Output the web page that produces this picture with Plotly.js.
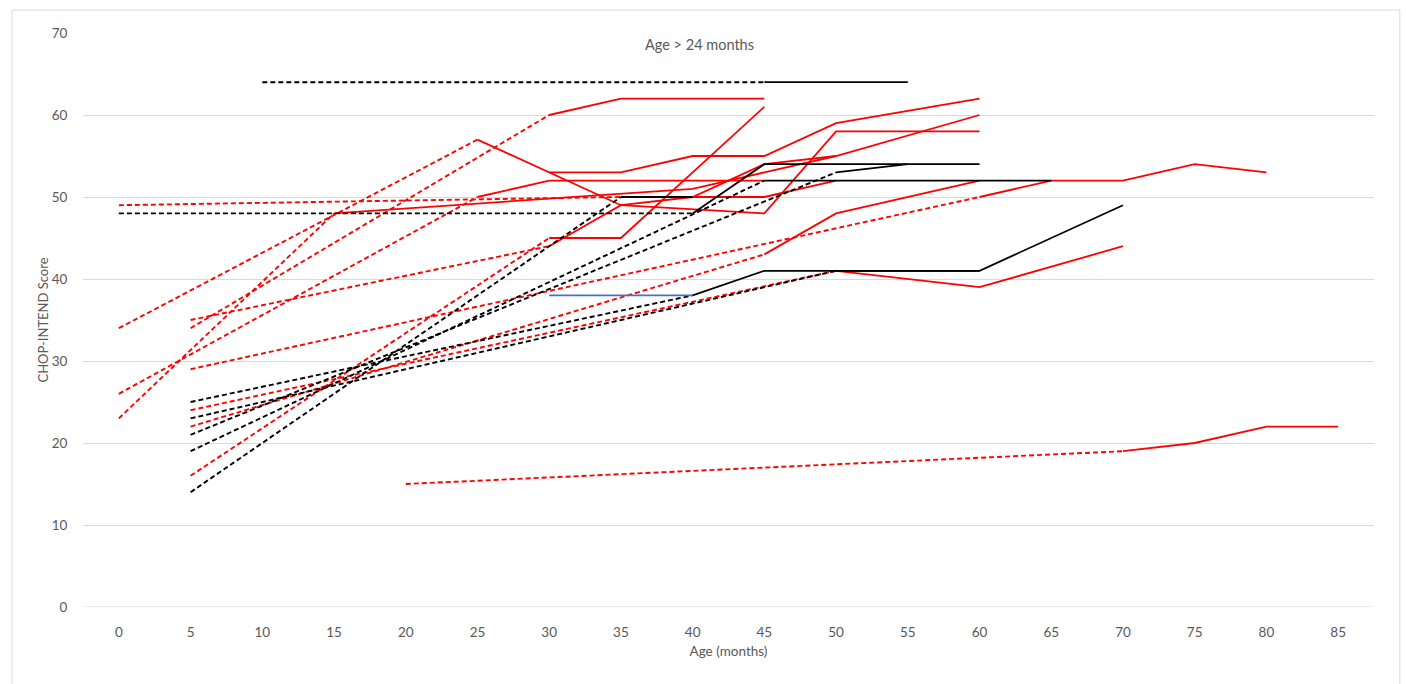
<!DOCTYPE html>
<html>
<head>
<meta charset="utf-8">
<script src="https://cdn.plot.ly/plotly-3.0.1.min.js"></script>
<style>
  html, body { margin: 0; padding: 0; background: #ffffff; }
  #chart { width: 1406px; height: 684px; }
</style>
</head>
<body>
<div id="chart"></div>
<script>
// CHOP-INTEND score by age. Each patient: dashed line from baseline to first
// follow-up, solid line for follow-up visits after that.
const xTicks = [0, 5, 10, 15, 20, 25, 30, 35, 40, 45, 50, 55, 60, 65, 70, 75, 80, 85];
const yTicks = [0, 10, 20, 30, 40, 50, 60, 70];

// baseline -> first follow-up (age months, score)
const p1Base = [[10, 64], [45, 64]];   const p1Follow = [[45, 64], [55, 64]];
const p2Base = [[0, 48], [40, 48]];    const p2Follow = [[40, 48], [45, 54], [60, 54]];
const p3Base = [[5, 14], [35, 50]];    const p3Follow = [[35, 50], [40, 50]];
const p4Base = [[5, 19], [45, 52]];    const p4Follow = [[45, 52], [65, 52]];
const p5Base = [[5, 21], [50, 53]];    const p5Follow = [[50, 53], [55, 54]];
const p6Base = [[5, 25], [40, 38]];    const p6Follow = [[40, 38], [45, 41], [60, 41], [70, 49]];
const p7Base = [[5, 23], [50, 41]];    const p7Follow = [[50, 41], [60, 41]];
const p8Follow = [[30, 38], [40, 38]];

const r1Base = [[0, 34], [25, 57]];    const r1Follow = [[25, 57], [35, 49], [45, 48], [50, 58], [60, 58]];
const r2Base = [[5, 34], [30, 60]];    const r2Follow = [[30, 60], [35, 62], [45, 62]];
const r3Base = [[0, 26], [25, 50]];    const r3Follow = [[25, 50], [30, 52], [45, 52]];
const r4Base = [[0, 49], [35, 50]];    const r4Follow = [[35, 50], [45, 50], [50, 52]];
const r5Base = [[5, 29], [60, 50]];    const r5Follow = [[60, 50], [65, 52], [70, 52], [75, 54], [80, 53]];
const r6Base = [[5, 35], [30, 44]];    const r6Follow = [[30, 44], [35, 49], [40, 50], [45, 54], [50, 55], [60, 60]];
const r7Base = [[5, 16], [30, 45]];    const r7Follow = [[30, 45], [35, 45], [45, 61]];
const r8Base = [[0, 23], [15, 48]];    const r8Follow = [[15, 48], [40, 51], [45, 53], [50, 55]];
const r9Base = [[5, 22], [45, 43]];    const r9Follow = [[45, 43], [50, 48], [60, 52]];
const r10Base = [[5, 24], [50, 41]];   const r10Follow = [[50, 41], [60, 39], [70, 44]];
const r11Base = [[20, 15], [70, 19]];  const r11Follow = [[70, 19], [75, 20], [80, 22], [85, 22]];
const r12Follow = [[30, 53], [35, 53], [40, 55], [45, 55], [50, 59], [60, 62]];

const RED = '#ff0000', BLACK = '#000000', BLUE = '#4472c4';

const groups = [
  { base: r1Base, follow: r1Follow, color: RED },
  { base: r2Base, follow: r2Follow, color: RED },
  { base: r3Base, follow: r3Follow, color: RED },
  { base: r4Base, follow: r4Follow, color: RED },
  { base: r5Base, follow: r5Follow, color: RED },
  { base: r6Base, follow: r6Follow, color: RED },
  { base: r7Base, follow: r7Follow, color: RED },
  { base: r8Base, follow: r8Follow, color: RED },
  { base: r9Base, follow: r9Follow, color: RED },
  { base: r10Base, follow: r10Follow, color: RED },
  { base: r11Base, follow: r11Follow, color: RED },
  { base: null, follow: r12Follow, color: RED },
  { base: p1Base, follow: p1Follow, color: BLACK },
  { base: p2Base, follow: p2Follow, color: BLACK },
  { base: p3Base, follow: p3Follow, color: BLACK },
  { base: p4Base, follow: p4Follow, color: BLACK },
  { base: p5Base, follow: p5Follow, color: BLACK },
  { base: p6Base, follow: p6Follow, color: BLACK },
  { base: p7Base, follow: p7Follow, color: BLACK },
  { base: null, follow: p8Follow, color: BLUE }
];

const traces = [];
groups.forEach(g => {
  if (g.base) {
    traces.push({
      x: g.base.map(p => p[0]), y: g.base.map(p => p[1]),
      mode: 'lines', type: 'scatter', hoverinfo: 'skip', showlegend: false,
      line: { color: g.color, width: 1.9, dash: '5px,3px' }
    });
  }
  traces.push({
    x: g.follow.map(p => p[0]), y: g.follow.map(p => p[1]),
    mode: 'lines', type: 'scatter', hoverinfo: 'skip', showlegend: false,
    line: { color: g.color, width: 1.8 }
  });
});

const FONT = 'Lato, "Open Sans", "Liberation Sans", sans-serif';
const GREY = '#595959';

const layout = {
  width: 1406, height: 684,
  paper_bgcolor: '#ffffff', plot_bgcolor: '#ffffff',
  margin: { l: 83, r: 32, t: 33, b: 77 },
  font: { family: FONT, color: GREY, size: 13 },
  showlegend: false,
  xaxis: {
    range: [-2.5, 87.5], tickvals: xTicks, ticktext: xTicks.map(String),
    showgrid: false, zeroline: false, showline: false,
    ticks: 'outside', ticklen: 13, tickcolor: 'rgba(0,0,0,0)',
    tickfont: { family: FONT, size: 13.5, color: GREY },
    title: { text: 'Age (months)', font: { family: FONT, size: 13.5, color: GREY }, standoff: 7 }
  },
  yaxis: {
    range: [0, 70], tickvals: yTicks, ticktext: yTicks.map(String),
    showgrid: true, gridcolor: '#d9d9d9', gridwidth: 1, zeroline: false, showline: false,
    ticks: 'outside', ticklen: 12, tickcolor: 'rgba(0,0,0,0)',
    tickfont: { family: FONT, size: 13.5, color: GREY },
    title: { text: 'CHOP-INTEND Score', font: { family: FONT, size: 13, color: GREY }, standoff: 0 }
  },
  shapes: [
    { type: 'line', xref: 'paper', yref: 'y', x0: 0, x1: 1, y0: 0, y1: 0, line: { color: '#d9d9d9', width: 1 } },
    { type: 'rect', xref: 'paper', yref: 'paper', x0: -0.055, x1: 1.02, y0: -0.135, y1: 1.04, line: { color: '#d9d9d9', width: 1 } }
  ],
  annotations: [
    { text: 'Age &gt; 24 months', xref: 'x', yref: 'y', x: 40.5, y: 68.6, showarrow: false,
      font: { family: FONT, size: 14.5, color: GREY } }
  ]
};

Plotly.newPlot('chart', traces, layout, { staticPlot: true, displayModeBar: false });
</script>
</body>
</html>
